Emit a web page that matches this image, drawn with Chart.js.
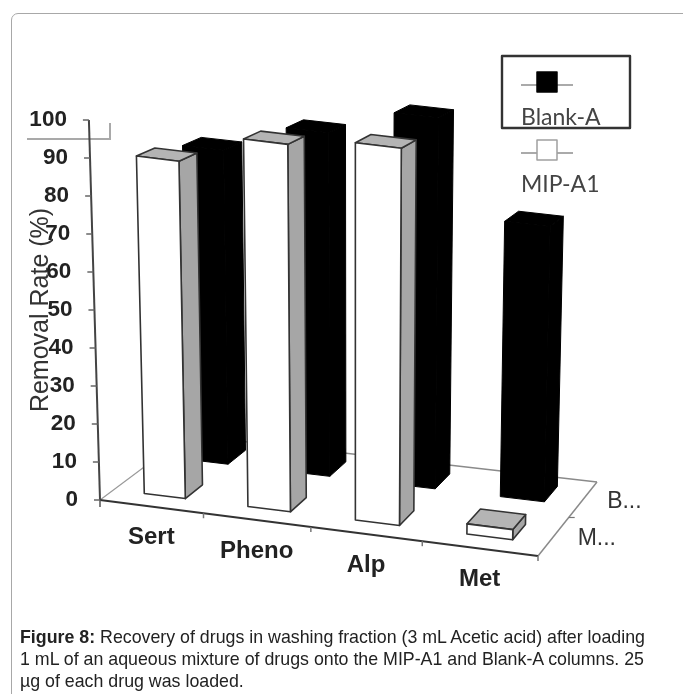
<!DOCTYPE html>
<html>
<head>
<meta charset="utf-8">
<script src="https://cdn.jsdelivr.net/npm/chart.js@4/dist/chart.umd.min.js"></script>
<style>
html,body{margin:0;padding:0;background:#fff;width:683px;height:694px;overflow:hidden}
#wrap{position:relative;width:683px;height:694px}
#frame{position:absolute;left:11px;top:13px;width:680px;height:700px;border:1.5px solid #a8a8a8;border-radius:7px;box-sizing:border-box}
canvas{position:absolute;left:0;top:0;filter:blur(0.5px)}
#cap{position:absolute;left:20px;top:626px;width:650px;font:17.8px/22px "Liberation Sans",Arial,sans-serif;color:#222;white-space:nowrap}
</style>
</head>
<body>
<div id="wrap">
<div id="frame"></div>
<canvas id="c" width="683" height="694"></canvas>
<div id="cap"><b>Figure 8:</b> Recovery of drugs in washing fraction (3 mL Acetic acid) after loading<br>1 mL of an aqueous mixture of drugs onto the MIP-A1 and Blank-A columns. 25<br>µg of each drug was loaded.</div>
</div>
<script>
const categories = ["Sert", "Pheno", "Alp", "Met"];
const mipValues = [90, 95.5, 95.5, 2.5];
const blankValues = [90, 96, 101, 73];
const depthLabels = ["M...", "B..."];
const yTicks = [0,10,20,30,40,50,60,70,80,90,100];
const seriesNames = ["MIP-A1", "Blank-A"];

// Floor of the 3D box in pixels
const Q = [[100,500],[538,556],[597,482],[187,435]];
function homography(){
  const [[x0,y0],[x1,y1],[x2,y2],[x3,y3]] = Q;
  const dx1=x1-x2, dx2=x3-x2, sx=x0-x1+x2-x3, dy1=y1-y2, dy2=y3-y2, sy=y0-y1+y2-y3;
  const d=dx1*dy2-dx2*dy1;
  const g=(sx*dy2-dx2*sy)/d, h=(dx1*sy-sx*dy1)/d;
  const a=x1-x0+g*x1,b=x3-x0+h*x3,e=y1-y0+g*y1,f=y3-y0+h*y3;
  return (u,v)=>{const w=g*u+h*v+1;return [(a*u+b*v+x0)/w,(e*u+f*v+y0)/w];};
}
const floorPt = homography();
// raise a floor point by a height; the scale depends on the bar's centre and on its depth
function lift(p, h, s){
  const px = h*s;
  return [p[0] + (p[0]-356)*px*0.00011, p[1]-px];
}
function poly(ctx, pts, fill, stroke, lw){
  ctx.beginPath();
  pts.forEach((p,i)=> i?ctx.lineTo(p[0],p[1]):ctx.moveTo(p[0],p[1]));
  ctx.closePath();
  ctx.fillStyle=fill; ctx.fill();
  ctx.lineJoin='round';
  ctx.strokeStyle=stroke; ctx.lineWidth=lw; ctx.stroke();
}
function line(ctx,a,b,color,lw){
  ctx.beginPath();ctx.moveTo(a[0],a[1]);ctx.lineTo(b[0],b[1]);
  ctx.strokeStyle=color;ctx.lineWidth=lw;ctx.stroke();
}

const faces = [
  {depth:[0.15,0.35], front:'#ffffff', side:'#a6a6a6', top:'#b4b4b4', edge:'#333333', lw:1.6},
  {depth:[0.66,0.88], front:'#000000', side:'#000000', top:'#000000', edge:'#000000', lw:1}
];
const halfU = 0.05;

const scene3d = {
  id:'scene3d',
  afterDatasetsDraw(chart){
    const ctx=chart.ctx, xs=chart.scales.x, ys=chart.scales.y, area=chart.chartArea;
    const U=x=>(x-area.left)/area.width;
    ctx.save();
    // stray bracket in the picture
    ctx.beginPath();ctx.moveTo(27,139);ctx.lineTo(110,139);ctx.lineTo(110,123);
    ctx.strokeStyle='#a9a9a9';ctx.lineWidth=2;ctx.stroke();
    // floor
    line(ctx,floorPt(0,0),floorPt(0,1),'#9a9a9a',1.2);
    line(ctx,floorPt(0,1),floorPt(1,1),'#8a8a8a',1.5);
    line(ctx,floorPt(1,0),floorPt(1,1),'#8a8a8a',1.5);
    line(ctx,floorPt(0,0),floorPt(1,0),'#333333',2.2);
    categories.forEach((c,i)=>{
      const u=(i+1)/categories.length, p=floorPt(u,0);
      line(ctx,p,[p[0],p[1]+5],'#777',1.5);
    });
    const mid=floorPt(1,0.5); line(ctx,mid,[mid[0]+6,mid[1]],'#777',1.2);
    const o=floorPt(0,0); line(ctx,o,[o[0],o[1]+7],'#555',1.5);
    // axis
    const yPx=v=>ys.getPixelForValue(v);
    const axisAt=v=>{const h=yPx(0)-yPx(v);return [o[0]-h*0.0292,o[1]-h];};
    line(ctx,axisAt(0),axisAt(100),'#444',2);
    ctx.font='bold 22.5px "Liberation Sans",Arial,sans-serif';
    ctx.textAlign='right';ctx.textBaseline='middle';
    ys.ticks.forEach(t=>{
      const p=axisAt(t.value);
      line(ctx,p,[p[0]-6,p[1]],'#666',1.5);
      ctx.fillStyle='#222';
      ctx.fillText(t.label,p[0]-22,p[1]);
    });
    // bars, back row first
    [1,0].forEach(ds=>{
      const meta=chart.getDatasetMeta(ds), f=faces[ds];
      meta.data.forEach(bar=>{
        const uc=U(bar.x), h=bar.base-bar.y;
        const cy=floorPt(uc,(f.depth[0]+f.depth[1])/2)[1];
        const sFront=1+0.002*(cy-500)+0.0012*(floorPt(uc,f.depth[0])[1]-cy);
        const sBack=1+0.002*(cy-500)+0.0012*(floorPt(uc,f.depth[1])[1]-cy);
        const fl=floorPt(uc-halfU,f.depth[0]), fr=floorPt(uc+halfU,f.depth[0]);
        const bl=floorPt(uc-halfU,f.depth[1]), br=floorPt(uc+halfU,f.depth[1]);
        const tfl=lift(fl,h,sFront), tfr=lift(fr,h,sFront), tbl=lift(bl,h,sBack), tbr=lift(br,h,sBack);
        poly(ctx,[fr,br,tbr,tfr],f.side,f.edge,f.lw);
        poly(ctx,[tfl,tfr,tbr,tbl],f.top,f.edge,f.lw);
        poly(ctx,[fl,fr,tfr,tfl],f.front,f.edge,f.lw);
      });
    });
    // category labels
    ctx.font='bold 24px "Liberation Sans",Arial,sans-serif';
    ctx.textAlign='center';ctx.fillStyle='#222';
    xs.getLabels().forEach((l,i)=>{
      const p=floorPt(U(xs.getPixelForValue(i)),0);
      ctx.fillText(l,p[0],p[1]+31);
    });
    // depth labels
    ctx.font='23px "Liberation Sans",Arial,sans-serif';
    ctx.textAlign='left';ctx.fillStyle='#333';
    depthLabels.forEach((l,i)=>{
      const p=floorPt(1,0.25+0.5*i);
      ctx.fillText(l,p[0]+24,p[1]+2);
    });
    // legend
    ctx.strokeStyle='#333';ctx.lineWidth=2.4;ctx.strokeRect(502,56,128,72);
    const items=[{name:seriesNames[1],y:82,fill:'#000000',edge:'#000000',tx:118},{name:seriesNames[0],y:150,fill:'#ffffff',edge:'#a0a0a0',tx:185}];
    ctx.font='23px Lato,"Open Sans",sans-serif';
    items.forEach(it=>{
      line(ctx,[521,it.y+3],[573,it.y+3],'#aaa',1.8);
      ctx.fillStyle=it.fill;ctx.strokeStyle=it.edge;ctx.lineWidth=1.5;
      ctx.fillRect(537,it.y-10,20,20);ctx.strokeRect(537,it.y-10,20,20);
      ctx.fillStyle='#444';ctx.textAlign='left';
      ctx.fillText(it.name,521,it.tx);
    });
    ctx.restore();
  }
};

new Chart(document.getElementById('c'),{
  type:'bar',
  data:{
    labels:categories,
    datasets:[
      {label:seriesNames[0],data:mipValues,backgroundColor:'rgba(255,255,255,0)',borderWidth:0,grouped:false},
      {label:seriesNames[1],data:blankValues,backgroundColor:'rgba(0,0,0,0)',borderWidth:0,grouped:false}
    ]
  },
  options:{
    responsive:false,
    devicePixelRatio:1,
    animation:false,
    layout:{padding:{left:26,top:120,right:145,bottom:194}},
    plugins:{legend:{display:false},tooltip:{enabled:false},title:{display:false}},
    scales:{
      x:{display:true,ticks:{display:false},grid:{display:false},border:{display:false},afterFit(s){s.height=0;}},
      y:{
        min:0,max:100,
        afterFit(s){s.width=74;},
        afterBuildTicks(s){s.ticks=yTicks.map(v=>({value:v}));},
        ticks:{display:false},
        grid:{display:false},border:{display:false},
        title:{display:true,text:'Removal Rate (%)',color:'#333',padding:0,font:{family:'"Liberation Sans",Arial,sans-serif',size:25}}
      }
    }
  },
  plugins:[scene3d]
});
</script>
</body>
</html>
